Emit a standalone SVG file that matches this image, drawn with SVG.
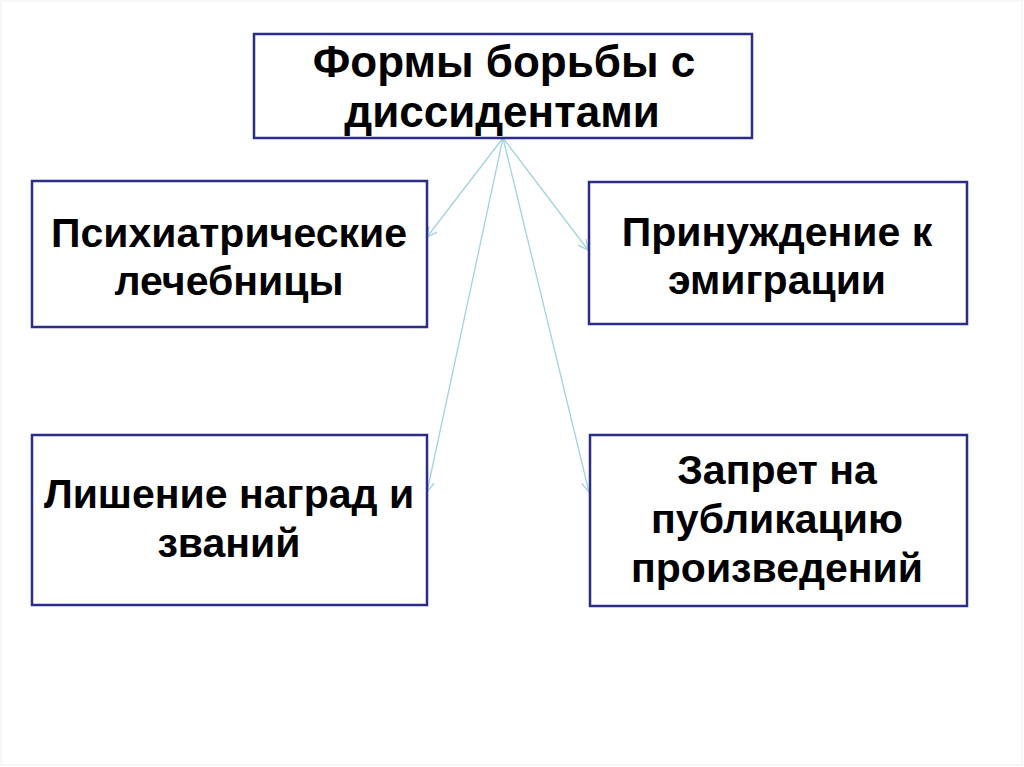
<svg xmlns="http://www.w3.org/2000/svg" width="1024" height="767" viewBox="0 0 1024 767">
  <style>
    .box { fill: #ffffff; stroke: #2b2d88; stroke-width: 2.5; }
    .lbl { font-family: "Liberation Sans", Arial, sans-serif; font-weight: bold; fill: #000000; text-anchor: middle; }
    .t44 { font-size: 44px; }
    .t40 { font-size: 41px; }
    .conn { stroke: #a3d3dc; stroke-width: 1.3; fill: none; marker-end: url(#arr); }
  </style>
  <defs>
    <marker id="arr" viewBox="0 0 12 12" refX="11" refY="6" markerWidth="12" markerHeight="12" markerUnits="userSpaceOnUse" orient="auto">
      <path d="M1,1 L11,6 L1,11" fill="none" stroke="#a3d3dc" stroke-width="1.3"/>
    </marker>
  </defs>
  <rect x="0" y="0" width="1024" height="767" fill="#ffffff"/>
  <rect x="1" y="1" width="1021" height="764" fill="none" stroke="#f5f5f5" stroke-width="1.5"/>

  <g id="connectors">
    <line class="conn" x1="503" y1="138" x2="427" y2="237"/>
    <line class="conn" x1="503" y1="138" x2="588" y2="250"/>
    <line class="conn" x1="503" y1="138" x2="427" y2="492"/>
    <line class="conn" x1="503" y1="138" x2="589" y2="492"/>
  </g>

  <g id="root">
    <rect class="box" x="254" y="34" width="498" height="104"/>
    <text class="lbl t44" x="504" y="77">Формы борьбы с</text>
    <text class="lbl t44" x="502" y="127">диссидентами</text>
  </g>

  <g id="psych">
    <rect class="box" x="32" y="181" width="395" height="146"/>
    <text class="lbl t40" x="229" y="247">Психиатрические</text>
    <text class="lbl t40" x="229" y="295">лечебницы</text>
  </g>

  <g id="emigration">
    <rect class="box" x="589" y="182" width="378" height="142"/>
    <text class="lbl t40" x="777" y="246">Принуждение к</text>
    <text class="lbl t40" x="777" y="294">эмиграции</text>
  </g>

  <g id="awards">
    <rect class="box" x="32" y="435" width="395" height="170"/>
    <text class="lbl t40" x="229" y="508">Лишение наград и</text>
    <text class="lbl t40" x="229" y="557">званий</text>
  </g>

  <g id="publication">
    <rect class="box" x="590" y="435" width="377" height="171"/>
    <text class="lbl t40" x="777" y="484">Запрет на</text>
    <text class="lbl t40" x="777" y="533">публикацию</text>
    <text class="lbl t40" x="777" y="582">произведений</text>
  </g>
</svg>
